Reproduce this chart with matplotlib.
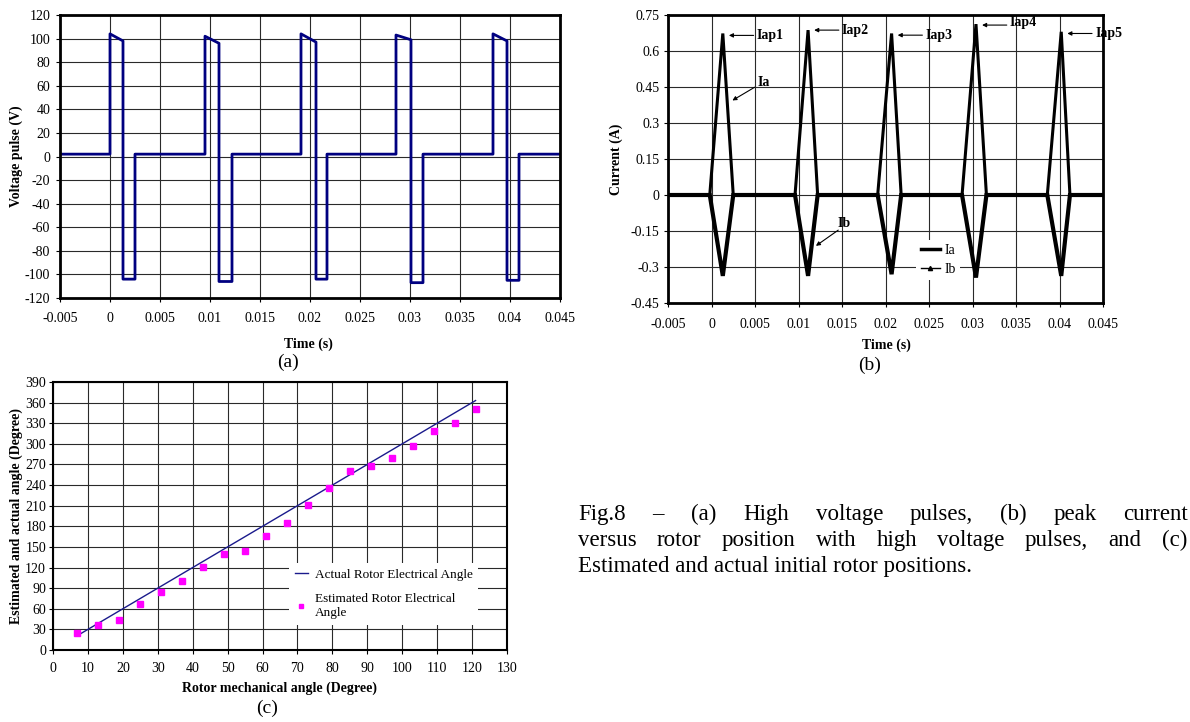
import matplotlib
matplotlib.use("Agg")
import matplotlib.pyplot as plt
from matplotlib.lines import Line2D

plt.rcParams['font.family'] = ['Liberation Serif', 'DejaVu Serif']
plt.rcParams['axes.unicode_minus'] = False

W, H = 1190, 722

# ---------------- data (a) voltage pulses ----------------
v_t_rise = [0.0, 0.0095, 0.0191, 0.0286, 0.0383]
v_t_fall = [0.0013, 0.0109, 0.0206, 0.0301, 0.0397]
v_t_end = [0.0025, 0.0122, 0.0217, 0.0313, 0.0409]
v_top_start = [104, 102, 104, 103, 104]
v_top_end = [98, 96, 97, 99, 98]
v_neg = [-104, -106, -104, -107, -105]
v_base = 2
v_xlim = [-0.005, 0.045]

# ---------------- data (b) currents ----------------
i_t_start = [-0.0002, 0.0096, 0.0191, 0.0288, 0.0386]
i_t_peak = [0.0013, 0.0111, 0.0207, 0.0304, 0.0402]
i_t_end = [0.0025, 0.0122, 0.0218, 0.0316, 0.0412]
ia_peak = [0.673, 0.687, 0.673, 0.712, 0.680]
ib_peak = [-0.337, -0.337, -0.330, -0.344, -0.337]
peak_labels = ["Iap1", "Iap2", "Iap3", "Iap4", "Iap5"]

# ---------------- data (c) rotor angles ----------------
mech_angle = [7, 13, 19, 25, 31, 37, 43, 49, 55, 61, 67, 73, 79, 85, 91, 97,
              103, 109, 115, 121]
actual_x = [7, 121]
actual_y = [21, 363]
estimated = [25, 36, 43, 67, 84, 100, 121, 139, 144, 166, 185, 211, 236, 261,
             268, 280, 297, 319, 331, 351]

time_ticks = [-0.005, 0, 0.005, 0.01, 0.015, 0.02, 0.025, 0.03, 0.035, 0.04, 0.045]
time_labels = ["-0.005", "0", "0.005", "0.01", "0.015", "0.02", "0.025", "0.03",
               "0.035", "0.04", "0.045"]
cur_ticks = [-0.45, -0.3, -0.15, 0, 0.15, 0.3, 0.45, 0.6, 0.75]
cur_labels = ["-0.45", "-0.3", "-0.15", "0", "0.15", "0.3", "0.45", "0.6", "0.75"]

fig = plt.figure(figsize=(W / 100, H / 100), dpi=100)


def px_axes(l, t, r, b):
    return fig.add_axes([l / W, 1 - b / H, (r - l) / W, (b - t) / H])


def style(ax, spine_lw, xpad, ypad):
    for s in ax.spines.values():
        s.set_linewidth(spine_lw)
        s.set_color('black')
    ax.grid(True, color='#2a2a2a', lw=0.8)
    ax.set_axisbelow(True)
    ax.tick_params(direction='out', length=3, width=0.8, labelsize=10,
                   colors='black')
    ax.tick_params(axis='x', pad=xpad)
    ax.tick_params(axis='y', pad=ypad)


# ---------- (a) ----------
axa = px_axes(60, 15, 560, 298)
vt = [v_xlim[0]]
vv = [v_base]
for r, f, e, ts, te, n in zip(v_t_rise, v_t_fall, v_t_end, v_top_start, v_top_end, v_neg):
    vt += [r, r, f, f, e, e]
    vv += [v_base, ts, te, n, n, v_base]
vt.append(v_xlim[1])
vv.append(v_base)
axa.plot(vt, vv, color='#000080', lw=2.0)
axa.set_xlim(v_xlim)
axa.set_ylim(-120, 120)
axa.set_yticks(range(-120, 121, 20))
axa.set_xticks(time_ticks)
axa.set_xticklabels(time_labels)
style(axa, 2.0, 7, 4)
axa.set_xlabel("Time (s)", fontsize=10, fontweight='bold')
axa.set_ylabel("Voltage pulse (V)", fontsize=10, fontweight='bold')
axa.xaxis.set_label_coords(0.496, -0.138)
axa.yaxis.set_label_coords(-0.074, 0.5)

# ---------- (b) ----------
axb = px_axes(668, 15, 1103, 303)
at = [v_xlim[0]]
av = [0]
bv = [0]
for s, p, e, a, b in zip(i_t_start, i_t_peak, i_t_end, ia_peak, ib_peak):
    at += [s, p, e]
    av += [0, a, 0]
    bv += [0, b, 0]
at.append(v_xlim[1])
av.append(0)
bv.append(0)
axb.plot(at, bv, color='black', lw=3.0, solid_joinstyle='miter')
axb.plot(at, av, color='black', lw=2.2, solid_joinstyle='miter')
axb.set_xlim(v_xlim)
axb.set_ylim(-0.45, 0.75)
axb.set_yticks(cur_ticks)
axb.set_yticklabels(cur_labels)
axb.set_xticks(time_ticks)
axb.set_xticklabels(time_labels)
style(axb, 2.0, 8, 3)
axb.set_xlabel("Time (s)", fontsize=10, fontweight='bold')
axb.set_ylabel("Current (A)", fontsize=10, fontweight='bold')
axb.xaxis.set_label_coords(0.503, -0.125)
axb.yaxis.set_label_coords(-0.103, 0.5)

arrow = dict(arrowstyle='-|>', lw=0.8, color='black', mutation_scale=6,
             shrinkA=1, shrinkB=0)
lab_y = [0.665, 0.687, 0.666, 0.708, 0.673]
lab_dy = [0, 0, 0, 0.012, 0]
for p, lbl, y, dy in zip(i_t_peak, peak_labels, lab_y, lab_dy):
    axb.annotate("", xy=(p + 0.0007, y), xytext=(p + 0.0037, y), arrowprops=arrow)
    axb.text(p + 0.0039, y + dy, lbl, fontsize=10, fontweight='bold',
             ha='left', va='center')
axb.annotate("", xy=(0.0024, 0.394), xytext=(0.0051, 0.452), arrowprops=arrow)
axb.text(0.0053, 0.47, "Ia", fontsize=10, fontweight='bold', ha='left', va='center')
axb.annotate("", xy=(0.0120, -0.212), xytext=(0.0147, -0.143), arrowprops=arrow)
axb.text(0.0145, -0.118, "Ib", fontsize=10, fontweight='bold', ha='left', va='center')

hb = [Line2D([], [], color='black', lw=2.5),
      Line2D([], [], color='black', lw=1.0, marker='^', markersize=3)]
legb = axb.legend(hb, ["Ia", "Ib"], loc='center left',
                  bbox_to_anchor=(0.555, 0.15), frameon=True, fontsize=10,
                  handlelength=1.4, handletextpad=0.3, labelspacing=0.45,
                  borderpad=0.3, fancybox=False)
legb.get_frame().set_edgecolor('none')
legb.get_frame().set_facecolor('white')
legb.get_frame().set_alpha(1)

# ---------- (c) ----------
axc = px_axes(53, 382, 507, 650)
axc.plot(actual_x, actual_y, color='#1a1a8c', lw=1.0,
         label="Actual Rotor Electrical Angle")
axc.plot(mech_angle, estimated, ls='none', marker='s', markersize=4,
         color='#ff00ff', label="Estimated Rotor Electrical\nAngle")
axc.set_xlim(0, 130)
axc.set_ylim(0, 390)
axc.set_xticks(range(0, 131, 10))
axc.set_yticks(range(0, 391, 30))
style(axc, 1.5, 5.5, 2)
axc.set_xlabel("Rotor mechanical angle (Degree)", fontsize=10, fontweight='bold')
axc.set_ylabel("Estimated and actual angle (Degree)", fontsize=10, fontweight='bold')
axc.xaxis.set_label_coords(0.5, -0.116)
axc.yaxis.set_label_coords(-0.066, 0.5)
legc = axc.legend(loc='upper left', bbox_to_anchor=(0.505, 0.35), frameon=True,
                  fontsize=9.5, handlelength=1.0, handletextpad=0.5,
                  labelspacing=0.9, borderpad=0.45, fancybox=False, markerscale=0.8)
legc.get_frame().set_edgecolor('none')
legc.get_frame().set_facecolor('white')
legc.get_frame().set_alpha(1)

# ---------- panel letters ----------
fig.text(288 / W, 1 - 362 / H, "(a)", fontsize=14, ha='center', va='center')
fig.text(870 / W, 1 - 365 / H, "(b)", fontsize=14, ha='center', va='center')
fig.text(267 / W, 1 - 708 / H, "(c)", fontsize=14, ha='center', va='center')

# ---------- caption (justified) ----------
cap_lines = [
    ["Fig.8", "–", "(a)", "High", "voltage", "pulses,", "(b)", "peak", "current"],
    ["versus", "rotor", "position", "with", "high", "voltage", "pulses,", "and", "(c)"],
    ["Estimated and actual initial rotor positions."],
]
cap_base = [520, 546, 572]
cap_right = [1188, 1187, None]
cap_x0 = 578
fig.canvas.draw()
renderer = fig.canvas.get_renderer()
for words, y, right in zip(cap_lines, cap_base, cap_right):
    texts = [fig.text(cap_x0 / W, 1 - y / H, w, fontsize=16.5, ha='left',
                      va='baseline') for w in words]
    if right is None:
        continue
    widths = [t.get_window_extent(renderer).width for t in texts]
    gap = (right - cap_x0 - sum(widths)) / (len(words) - 1)
    x = cap_x0
    for t, w in zip(texts, widths):
        t.set_x(x / W)
        x += w + gap

fig.savefig("out.png", dpi=100)
